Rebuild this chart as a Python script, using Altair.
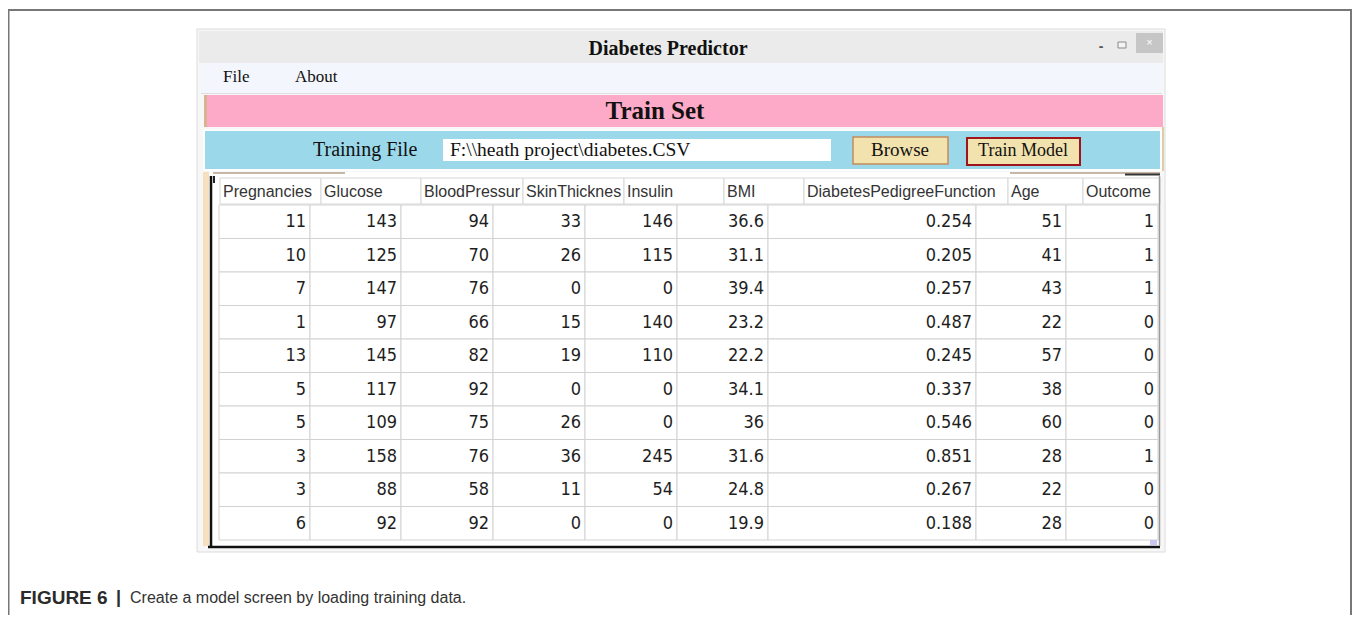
import altair as alt
import pandas as pd

# ---------------- data ----------------
window_title = "Diabetes Predictor"
menu_items = ["File", "About"]
panel_title = "Train Set"
file_label = "Training File"
file_path = "F:\\\\heath project\\diabetes.CSV"
button_labels = ["Browse", "Train Model"]
headers = ["Pregnancies", "Glucose", "BloodPressur", "SkinThicknes", "Insulin",
           "BMI", "DiabetesPedigreeFunction", "Age", "Outcome"]
pregnancies = [11, 10, 7, 1, 13, 5, 5, 3, 3, 6]
glucose = [143, 125, 147, 97, 145, 117, 109, 158, 88, 92]
blood_pressure = [94, 70, 76, 66, 82, 92, 75, 76, 58, 92]
skin_thickness = [33, 26, 0, 15, 19, 0, 26, 36, 11, 0]
insulin = [146, 115, 0, 140, 110, 0, 0, 245, 54, 0]
bmi = [36.6, 31.1, 39.4, 23.2, 22.2, 34.1, 36, 31.6, 24.8, 19.9]
pedigree = [0.254, 0.205, 0.257, 0.487, 0.245, 0.337, 0.546, 0.851, 0.267, 0.188]
age = [51, 41, 43, 22, 57, 38, 60, 28, 22, 28]
outcome = [1, 1, 1, 0, 0, 0, 0, 1, 0, 0]
caption_bold = "FIGURE 6"
caption_bar = "|"
caption_text = "Create a model screen by loading training data."

columns = [pregnancies, glucose, blood_pressure, skin_thickness, insulin,
           bmi, pedigree, age, outcome]

# ---------------- layout (screen pixel frame) ----------------
W, H, OFF = 1344, 607, 8
xs = alt.Scale(domain=[OFF, OFF + W], range=[0, W], nice=False, zero=False)
ys = alt.Scale(domain=[OFF, OFF + H], range=[0, H], nice=False, zero=False)

header_edges = [220, 321, 421, 523, 624, 724, 804, 1008, 1083, 1160]
cell_edges = [219, 310, 401, 493, 585, 677, 768, 976, 1066, 1158]
header_top, header_bot = 178, 204
row_top, row_h = 205, 33.5


def X(f):
    return alt.X(f, type="quantitative", scale=xs, axis=None)


def Y(f):
    return alt.Y(f, type="quantitative", scale=ys, axis=None)


rects = []


def add_rect(x, x2, y, y2, fill, stroke="transparent", sw=0):
    rects.append(dict(x=x, x2=x2, y=y, y2=y2, fill=fill, stroke=stroke, sw=sw))


rules = []


def add_rule(x, x2, y, y2, color, sw):
    rules.append(dict(x=x, x2=x2, y=y, y2=y2, color=color, sw=sw))


# window chrome
add_rect(197, 1165, 29, 552, "#f7f7f7", "#dcdcdc", 1)
add_rect(199, 1163, 31, 63, "#ebebeb")
add_rect(1136, 1163, 33, 53, "#c6c6c6")
add_rect(1118, 1126, 42, 48, "#f4f4f4", "#8a8a8a", 1)
add_rect(201, 1162, 63, 93, "#f3f6fc")
add_rect(205, 1163, 95, 127, "#fdaac8")
add_rect(204, 207, 95, 127, "#d9b391")
add_rect(203, 1163, 129, 171, "#ffffff")
add_rect(205, 1160, 131, 169, "#9bd9ea")
add_rect(1162, 1164, 127, 171, "#e3cba9")
add_rect(443, 831, 139, 161, "#ffffff")
add_rect(853, 948, 137, 164, "#f2e3ae", "#c48c5c", 1.5)
add_rect(967, 1080, 138, 165, "#f2e3ae", "#a0141c", 2)
# table area
add_rect(208, 1160, 172, 548, "#ffffff")
add_rect(203, 209, 172, 546, "#f8dfc0")
for i in range(len(headers)):
    add_rect(header_edges[i], header_edges[i + 1], header_top, header_bot,
             "#ffffff", "#d6d6d6", 1)
n_rows = len(pregnancies)
for r in range(n_rows):
    for c in range(len(columns)):
        add_rect(cell_edges[c], cell_edges[c + 1], row_top + r * row_h,
                 row_top + (r + 1) * row_h, "#ffffff", "#d2d2d2", 1)
add_rect(1150, 1157, 540, 545, "#c9c6ef")
# outer figure frame
add_rect(8.5, 1351, 10, 640, "transparent", "#777777", 2)

add_rule(211, 211, 176, 548, "#111111", 2.5)
add_rule(208, 1160, 547, 547, "#111111", 2.5)
add_rule(213, 345, 173, 173, "#b59f8a", 1.5)
add_rule(1010, 1160, 173, 173, "#b59f8a", 1.5)
add_rule(1125, 1160, 174.5, 174.5, "#333333", 2)
add_rule(1159.5, 1159.5, 176, 546, "#9c9c9c", 1.5)
add_rule(214, 214, 176, 183, "#222222", 2)
add_rule(201, 1162, 93.5, 93.5, "#dedede", 1)

rect_df = pd.DataFrame(rects)
rule_df = pd.DataFrame(rules)

rect_layer = alt.Chart(rect_df).mark_rect().encode(
    x=X("x"), x2=alt.X2("x2"), y=Y("y"), y2=alt.Y2("y2"),
    color=alt.Color("fill:N", scale=None),
    stroke=alt.Stroke("stroke:N", scale=None),
    strokeWidth=alt.StrokeWidth("sw:Q", scale=None),
)
rule_layer = alt.Chart(rule_df).mark_rule().encode(
    x=X("x"), x2=alt.X2("x2"), y=Y("y"), y2=alt.Y2("y2"),
    color=alt.Color("color:N", scale=None),
    strokeWidth=alt.StrokeWidth("sw:Q", scale=None),
)

layers = [rect_layer, rule_layer]


def text_layer(items, font, size, color, align, weight="normal"):
    df = pd.DataFrame(items, columns=["x", "y", "t"])
    return alt.Chart(df).mark_text(
        font=font, fontSize=size, color=color, align=align,
        baseline="middle", fontWeight=weight,
    ).encode(x=X("x"), y=Y("y"), text="t:N")


SERIF = "Liberation Serif, Times New Roman, serif"
SANS = "Liberation Sans, Arial, sans-serif"
NARROW = "DejaVu Sans Condensed, sans-serif"

layers.append(text_layer([(668, 49, window_title)], SERIF, 20, "#111111", "center", "bold"))
layers.append(text_layer([(655, 111, panel_title)], SERIF, 25, "#111111", "center", "bold"))
layers.append(text_layer([(223, 77, menu_items[0]), (295, 77, menu_items[1])],
                         SERIF, 17, "#111111", "left"))
layers.append(text_layer([(313, 150, file_label)], SERIF, 20, "#111111", "left"))
layers.append(text_layer([(450, 150, file_path)], SERIF, 19.5, "#111111", "left"))
layers.append(text_layer([(900, 150, button_labels[0])], SERIF, 19, "#111111", "center"))
layers.append(text_layer([(1023, 151, button_labels[1])], SERIF, 18, "#111111", "center"))
layers.append(text_layer([(1101, 47, "-")], SANS, 14, "#555555", "center", "bold"))
layers.append(text_layer([(1149.5, 43, "×")], SANS, 11, "#ffffff", "center"))

layers.append(text_layer(
    [(header_edges[i] + 3, (header_top + header_bot) / 2 + 0.5, h) for i, h in enumerate(headers)],
    SANS, 16, "#333333", "left"))

vals = []
for c, col in enumerate(columns):
    for r, v in enumerate(col):
        vals.append((cell_edges[c + 1] - 4, row_top + (r + 0.5) * row_h + 0.5, f"{v:g}"))
layers.append(text_layer(vals, NARROW, 18, "#1e1e1e", "right"))

layers.append(text_layer([(20, 598, caption_bold)], SANS, 19, "#2b2b2b", "left", "bold"))
layers.append(text_layer([(116, 598, caption_bar)], SANS, 18, "#2b2b2b", "left", "bold"))
layers.append(text_layer([(130, 598, caption_text)], SANS, 16, "#333333", "left"))

chart = alt.layer(*layers).properties(
    width=W, height=H,
    autosize=alt.AutoSizeParams(type="none"),
    padding=0,
    background="#ffffff",
).configure_view(strokeWidth=0)

chart.save("out.html", embed_options={"renderer": "svg", "actions": False})
